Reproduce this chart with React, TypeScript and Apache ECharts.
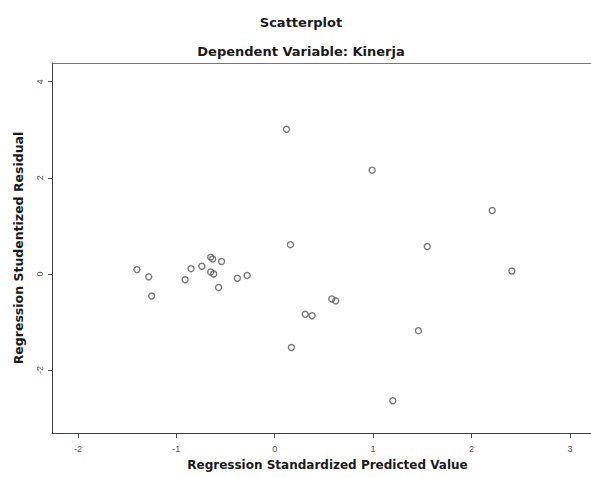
import React, { useEffect, useRef } from "react";
import * as echarts from "echarts";

const titleText = "Scatterplot";
const subtitleText = "Dependent Variable: Kinerja";
const xAxisName = "Regression Standardized Predicted Value";
const yAxisName = "Regression Studentized Residual";

const xTicks = [-2, -1, 0, 1, 2, 3];
const yTicks = [-2, 0, 2, 4];

// Regression standardized predicted values
const predicted = [
  -1.4, -1.28, -1.25, -0.91, -0.85, -0.74, -0.65, -0.63, -0.54, -0.65, -0.62, -0.57, -0.38, -0.28,
  0.12, 0.99, 2.21, 0.16, 1.55, 2.41, 0.58, 0.62, 0.31, 0.38, 1.46, 0.17, 1.2,
];
// Regression studentized residuals
const residuals = [
  0.09, -0.06, -0.46, -0.12, 0.11, 0.16, 0.35, 0.31, 0.26, 0.04, 0.0, -0.28, -0.09, -0.03,
  3.01, 2.16, 1.32, 0.61, 0.57, 0.06, -0.52, -0.56, -0.84, -0.87, -1.18, -1.53, -2.64,
];

const FONT = "'Liberation Sans', Arial, Helvetica, sans-serif";
const BOLD_FONT = "'DejaVu Sans', Verdana, sans-serif";
const X_MIN = -2.263;
const X_MAX = 3.214;

export default function App() {
  const ref = useRef<HTMLDivElement>(null);

  useEffect(() => {
    if (!ref.current) return;
    const chart = echarts.init(ref.current, null, { renderer: "svg" });
    const data = predicted.map((x, i) => [x, residuals[i]]);
    chart.setOption({
      animation: false,
      backgroundColor: "#ffffff",
      title: [
        {
          text: titleText,
          left: 301,
          top: 22,
          padding: 0,
          textAlign: "center",
          textVerticalAlign: "middle",
          textStyle: { fontFamily: BOLD_FONT, fontSize: 13, fontWeight: "bold", color: "#1a1a1a" },
        },
        {
          text: subtitleText,
          left: 301,
          top: 51,
          padding: 0,
          textAlign: "center",
          textVerticalAlign: "middle",
          textStyle: { fontFamily: BOLD_FONT, fontSize: 13, fontWeight: "bold", color: "#1a1a1a" },
        },
      ],
      grid: {
        left: 52,
        right: 0,
        top: 63,
        bottom: 45,
        show: false,
        containLabel: false,
      },
      xAxis: [
        {
          type: "value",
          position: "bottom",
          min: X_MIN,
          max: X_MAX,
          name: xAxisName,
          nameLocation: "middle",
          nameGap: 26,
          nameTextStyle: {
            fontFamily: BOLD_FONT,
            fontSize: 12,
            fontWeight: "bold",
            color: "#1a1a1a",
            padding: [0, 0, 0, 12],
          },
          axisLine: { show: true, onZero: false, lineStyle: { color: "#444", width: 1 } },
          axisTick: {
            show: true,
            length: 5,
            customValues: xTicks,
            lineStyle: { color: "#444" },
          },
          axisLabel: {
            customValues: xTicks,
            margin: 11,
            fontFamily: FONT,
            fontSize: 9,
            color: "#555",
          },
          splitLine: { show: false },
        },
        {
          type: "value",
          position: "top",
          min: X_MIN,
          max: X_MAX,
          axisLine: { show: true, onZero: false, lineStyle: { color: "#777", width: 1 } },
          axisTick: { show: false },
          axisLabel: { show: false },
          splitLine: { show: false },
        },
      ],
      yAxis: {
        type: "value",
        min: -3.31,
        max: 4.39,
        name: yAxisName,
        nameLocation: "middle",
        nameGap: 27,
        nameTextStyle: {
          fontFamily: BOLD_FONT,
          fontSize: 12.5,
          fontWeight: "bold",
          color: "#1a1a1a",
        },
        axisLine: { show: true, onZero: false, lineStyle: { color: "#444", width: 1 } },
        axisTick: {
          show: true,
          length: 4,
          customValues: yTicks,
          lineStyle: { color: "#444" },
        },
        axisLabel: {
          customValues: yTicks,
          rotate: 90,
          margin: 8,
          fontFamily: FONT,
          fontSize: 9,
          color: "#555",
        },
        splitLine: { show: false },
      },
      series: [
        {
          type: "scatter",
          xAxisIndex: 0,
          data,
          symbol: "circle",
          symbolSize: 6,
          itemStyle: { color: "rgba(255,255,255,0)", borderColor: "#555", borderWidth: 1.4 },
        },
      ],
    });
    return () => chart.dispose();
  }, []);

  return (
    <div
      ref={ref}
      style={{ position: "fixed", left: 0, top: 0, width: 591, height: 478, background: "#fff" }}
    />
  );
}
